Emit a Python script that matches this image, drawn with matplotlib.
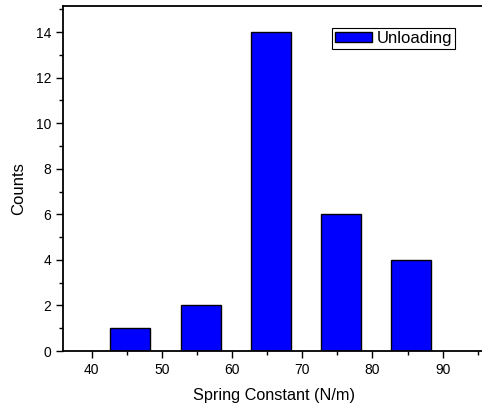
import matplotlib
matplotlib.use("Agg")
import matplotlib.pyplot as plt
from matplotlib.ticker import MultipleLocator

plt.rcParams['font.family'] = ['Liberation Sans', 'DejaVu Sans']

# histogram bins (centres) and counts
centers = [45.5, 55.5, 65.5, 75.5, 85.5]
counts = [1, 2, 14, 6, 4]
bar_width = 5.7

fig = plt.figure(figsize=(4.82, 4.05), dpi=100)
ax = fig.add_axes([0.1307, 0.1333, 0.8776, 0.852])

ax.bar(centers, counts, width=bar_width, color='#0000FF', edgecolor='black',
       linewidth=1.0, label='Unloading', zorder=2)

ax.set_xlim(35.91, 96.17)
ax.set_ylim(0, 15.15)

ax.xaxis.set_major_locator(MultipleLocator(10))
ax.xaxis.set_minor_locator(MultipleLocator(5))
ax.yaxis.set_major_locator(MultipleLocator(2))
ax.yaxis.set_minor_locator(MultipleLocator(1))

ax.tick_params(which='major', direction='out', length=5, width=1.0, labelsize=10)
ax.tick_params(which='minor', direction='out', length=3, width=1.0)
ax.tick_params(top=False, right=False)

for s in ax.spines.values():
    s.set_linewidth(1.3)

ax.set_xlabel('Spring Constant (N/m)', fontsize=11.7, labelpad=8)
ax.set_ylabel('Counts', fontsize=12)
ax.yaxis.set_label_coords(-0.088, 0.47)

leg = ax.legend(loc='upper left', bbox_to_anchor=(0.636, 0.936), borderaxespad=0,
                fancybox=False, edgecolor='black', framealpha=1, fontsize=12,
                handlelength=2.2, handleheight=0.6, handletextpad=0.3,
                borderpad=0.18)
leg.get_frame().set_linewidth(0.8)

fig.savefig('out.png', dpi=100)
